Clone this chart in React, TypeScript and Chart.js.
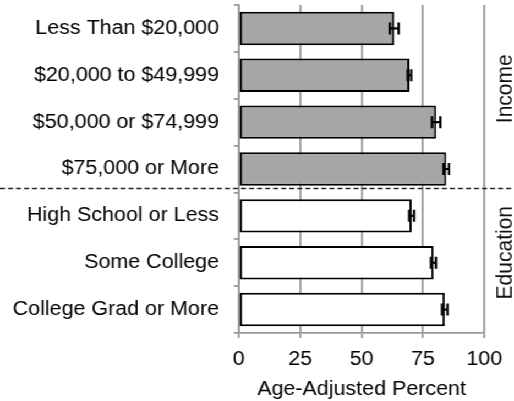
import { useEffect, useRef } from "react";
import { Chart, registerables } from "chart.js";

Chart.register(...registerables);

// Survey categories, grouped by income and by education
const categories = [
  "Less Than $20,000",
  "$20,000 to $49,999",
  "$50,000 or $74,999",
  "$75,000 or More",
  "High School or Less",
  "Some College",
  "College Grad or More",
];
const groupNames = ["Income", "Education"];
const groupSizes = [4, 3];

// Age-adjusted percent with 95% confidence limits
const percents = [63.3, 69.5, 80.4, 84.5, 70.4, 79.3, 83.9];
const ciLower = [61.5, 68.8, 78.7, 83.4, 69.4, 78.3, 82.8];
const ciUpper = [65.1, 70.2, 82.1, 85.6, 71.4, 80.3, 85.0];

const xTicks = [0, 25, 50, 75, 100];
const axisTitle = "Age-Adjusted Percent";
const groupFills = ["#a6a6a6", "#ffffff"];

const FONT = "'Liberation Sans', Arial, Helvetica, sans-serif";
const GRID = "#999999";
const W = 467;
const H = 401;
const STRETCH = 514 / W;

const groupOf = (i: number) => {
  let acc = 0;
  for (let g = 0; g < groupSizes.length; g++) {
    acc += groupSizes[g];
    if (i < acc) return g;
  }
  return groupSizes.length - 1;
};

const decorations = {
  id: "decorations",
  afterDatasetsDraw(chart: any) {
    const { ctx } = chart;
    const meta = chart.getDatasetMeta(0);
    const xs = chart.scales.x;
    ctx.save();
    ctx.strokeStyle = "#000";
    meta.data.forEach((bar: any, i: number) => {
      const y = bar.y;
      const x1 = xs.getPixelForValue(ciLower[i]);
      const x2 = xs.getPixelForValue(ciUpper[i]);
      const cap = 6;
      ctx.lineWidth = 2.2;
      ctx.beginPath();
      ctx.moveTo(x1, y);
      ctx.lineTo(x2, y);
      ctx.stroke();
      ctx.lineWidth = 2.2;
      ctx.beginPath();
      ctx.moveTo(x1, y - cap);
      ctx.lineTo(x1, y + cap);
      ctx.moveTo(x2, y - cap);
      ctx.lineTo(x2, y + cap);
      ctx.stroke();
    });
    ctx.restore();
  },
  afterDraw(chart: any) {
    const { ctx, chartArea } = chart;
    const ys = chart.scales.y;
    ctx.save();
    // dashed separators between groups
    let start = 0;
    ctx.strokeStyle = "#222";
    ctx.lineWidth = 1.4;
    ctx.setLineDash([4.5, 2.8]);
    for (let g = 0; g < groupSizes.length - 1; g++) {
      start += groupSizes[g];
      const y = ys.getPixelForValue(start - 0.5) - 4;
      ctx.beginPath();
      ctx.moveTo(0, y);
      ctx.lineTo(chart.width, y);
      ctx.stroke();
    }
    ctx.setLineDash([]);
    // group labels on the right
    ctx.fillStyle = "#111";
    ctx.font = `21px ${FONT}`;
    ctx.textAlign = "center";
    ctx.textBaseline = "middle";
    let first = 0;
    groupNames.forEach((name, g) => {
      const last = first + groupSizes[g] - 1;
      const cy = (ys.getPixelForValue(first - 0.5) + ys.getPixelForValue(last + 0.5)) / 2 - 10;
      const cx = chartArea.right + 19;
      ctx.save();
      ctx.translate(cx, cy);
      ctx.rotate(-Math.PI / 2);
      ctx.fillText(name, 0, 0);
      ctx.restore();
      first = last + 1;
    });
    ctx.restore();
  },
};

export default function App() {
  const canvasRef = useRef<HTMLCanvasElement | null>(null);

  useEffect(() => {
    const canvas = canvasRef.current;
    if (!canvas) return;
    const chart = new Chart(canvas, {
      type: "bar",
      data: {
        labels: categories,
        datasets: [
          {
            data: percents,
            backgroundColor: categories.map((_, i) => groupFills[groupOf(i)]),
            borderColor: "#000",
            borderWidth: 2,
            borderSkipped: false,
            barPercentage: 0.714,
            categoryPercentage: 1,
          },
        ],
      },
      options: {
        indexAxis: "y",
        responsive: false,
        animation: false,
        devicePixelRatio: 1,
        layout: { padding: { top: 5, right: 27, left: 0, bottom: 0 } },
        plugins: {
          legend: { display: false },
          tooltip: { enabled: false },
        },
        scales: {
          x: {
            min: 0,
            max: 100,
            afterBuildTicks: (s: any) => {
              s.ticks = xTicks.map((v) => ({ value: v }));
            },
            afterFit: (s: any) => {
              s.height = 68;
            },
            grid: {
              color: GRID,
              lineWidth: 1.8,
              drawTicks: true,
              tickLength: 5,
            },
            border: { color: GRID, width: 1.8 },
            ticks: {
              color: "#000",
              font: { family: FONT, size: 19.5 },
              padding: 10,
              maxRotation: 0,
            },
            title: {
              display: true,
              text: axisTitle,
              color: "#000",
              font: { family: FONT, size: 19.5 },
              padding: { top: 0, bottom: 0 },
            },
          },
          y: {
            afterFit: (s: any) => {
              s.width = 217;
              s.paddingTop = 0;
              s.paddingBottom = 0;
            },
            grid: {
              color: GRID,
              lineWidth: 1.8,
              drawOnChartArea: false,
              drawTicks: true,
              tickLength: 4.5,
              offset: true,
            },
            border: { color: GRID, width: 1.8 },
            ticks: {
              color: "#000",
              font: { family: FONT, size: 19.5 },
              padding: 13.5,
              autoSkip: false,
            },
          },
        },
      },
      plugins: [decorations],
    });
    return () => chart.destroy();
  }, []);

  return (
    <div
      style={{
        position: "fixed",
        left: 0,
        top: 0,
        width: W,
        height: H,
        transform: `scaleX(${STRETCH})`,
        transformOrigin: "0 0",
        background: "#fff",
      }}
    >
      <canvas ref={canvasRef} width={W} height={H} style={{ display: "block", width: W, height: H }} />
    </div>
  );
}
